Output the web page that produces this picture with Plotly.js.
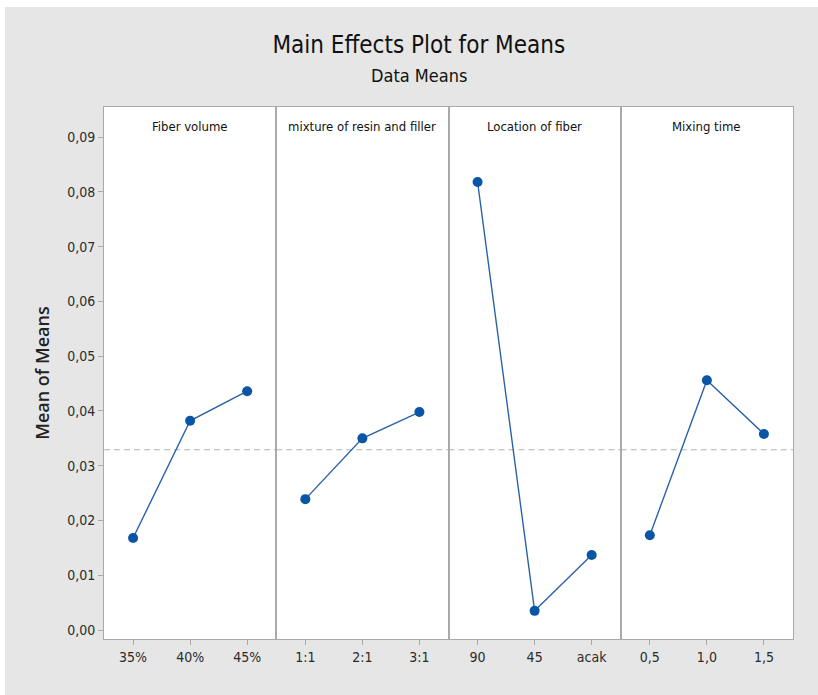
<!DOCTYPE html>
<html>
<head>
<meta charset="utf-8">
<script src="https://cdn.plot.ly/plotly-3.0.1.min.js"></script>
<style>
  html, body { margin: 0; padding: 0; background: #ffffff; }
  #chart { position: absolute; left: 5px; top: 7px; width: 813px; height: 688px; }
</style>
</head>
<body>
<div id="chart"></div>
<script>
// ---- data ----
const panelTitles = ["Fiber volume", "mixture of resin and filler", "Location of fiber", "Mixing time"];
const fiberLevels = ["35%", "40%", "45%"];
const fiberMeans = [0.0168, 0.0382, 0.0436];
const resinLevels = ["1:1", "2:1", "3:1"];
const resinMeans = [0.0239, 0.0350, 0.0398];
const locationLevels = ["90", "45", "acak"];
const locationMeans = [0.0818, 0.0035, 0.0137];
const mixingLevels = ["0,5", "1,0", "1,5"];
const mixingMeans = [0.0173, 0.0456, 0.0358];
const yTickVals = [0, 0.01, 0.02, 0.03, 0.04, 0.05, 0.06, 0.07, 0.08, 0.09];

const levels = [fiberLevels, resinLevels, locationLevels, mixingLevels];
const means = [fiberMeans, resinMeans, locationMeans, mixingMeans];
const allVals = [].concat(fiberMeans, resinMeans, locationMeans, mixingMeans);
const grandMean = allVals.reduce((a, b) => a + b, 0) / allVals.length;

const narrow = "Liberation Sans Narrow, DejaVu Sans Condensed, Arial Narrow, sans-serif";
const axisGray = "#a9a9a9";
const textCol = "#2b2b2b";

const traces = [];
const layout = {
  width: 813, height: 688,
  paper_bgcolor: "#e6e6e6",
  plot_bgcolor: "#ffffff",
  showlegend: false,
  separators: ",.",
  margin: { l: 99, r: 25, t: 100, b: 56 },
  title: {
    text: "Main Effects Plot for Means",
    x: 0.509, xref: "container", xanchor: "center",
    y: 0.945, yref: "container", yanchor: "middle",
    font: { family: narrow, size: 24, color: "#111111" }
  },
  annotations: [
    { text: "Data Means", xref: "paper", yref: "paper", x: 0.457, y: 1.060,
      xanchor: "center", yanchor: "middle", showarrow: false,
      font: { family: narrow, size: 18, color: "#111111" } }
  ],
  shapes: []
};

for (let i = 0; i < 4; i++) {
  const xa = i === 0 ? "x" : "x" + (i + 1);
  const ya = i === 0 ? "y" : "y" + (i + 1);
  traces.push({
    type: "scatter", mode: "lines+markers",
    x: levels[i], y: means[i],
    xaxis: xa, yaxis: ya,
    line: { color: "#2a62a8", width: 1.4 },
    marker: { color: "#0a55a5", size: 10 },
    hoverinfo: "x+y"
  });
  const xKey = i === 0 ? "xaxis" : "xaxis" + (i + 1);
  const yKey = i === 0 ? "yaxis" : "yaxis" + (i + 1);
  layout[xKey] = {
    domain: [i * 0.25, (i + 1) * 0.25],
    anchor: ya,
    type: "category",
    range: [-0.51, 2.51],
    showgrid: false, zeroline: false,
    showline: true, mirror: true, linecolor: axisGray, linewidth: 1,
    ticks: "outside", ticklen: 5, tickcolor: axisGray,
    tickfont: { family: narrow, size: 14, color: textCol },
    fixedrange: true
  };
  layout[yKey] = {
    anchor: xa,
    range: [-0.00164, 0.0955],
    showgrid: false, zeroline: false,
    showline: true, mirror: true, linecolor: axisGray, linewidth: 1,
    fixedrange: true
  };
  if (i === 0) {
    Object.assign(layout[yKey], {
      tickvals: yTickVals, tickformat: ".2f",
      ticks: "outside", ticklen: 5, tickcolor: axisGray,
      tickfont: { family: narrow, size: 14, color: textCol },
      title: { text: "Mean of Means", standoff: 12,
               font: { family: "Open Sans, DejaVu Sans, sans-serif", size: 18, color: "#222222", weight: 600 } }
    });
  } else {
    Object.assign(layout[yKey], { matches: "y", showticklabels: false, ticks: "" });
  }
  layout.annotations.push({
    text: panelTitles[i], xref: xa + " domain", yref: "paper",
    x: 0.5, y: 0.964, xanchor: "center", yanchor: "middle", showarrow: false,
    font: { family: narrow, size: 13, color: "#111111" }
  });
  layout.shapes.push({
    type: "line", xref: xa + " domain", yref: ya,
    x0: 0, x1: 1, y0: grandMean, y1: grandMean,
    line: { color: "#b3b3b3", width: 1.2, dash: "6px,4px" }, layer: "below"
  });
}

Plotly.newPlot("chart", traces, layout, { displayModeBar: false, staticPlot: true });
</script>
</body>
</html>
